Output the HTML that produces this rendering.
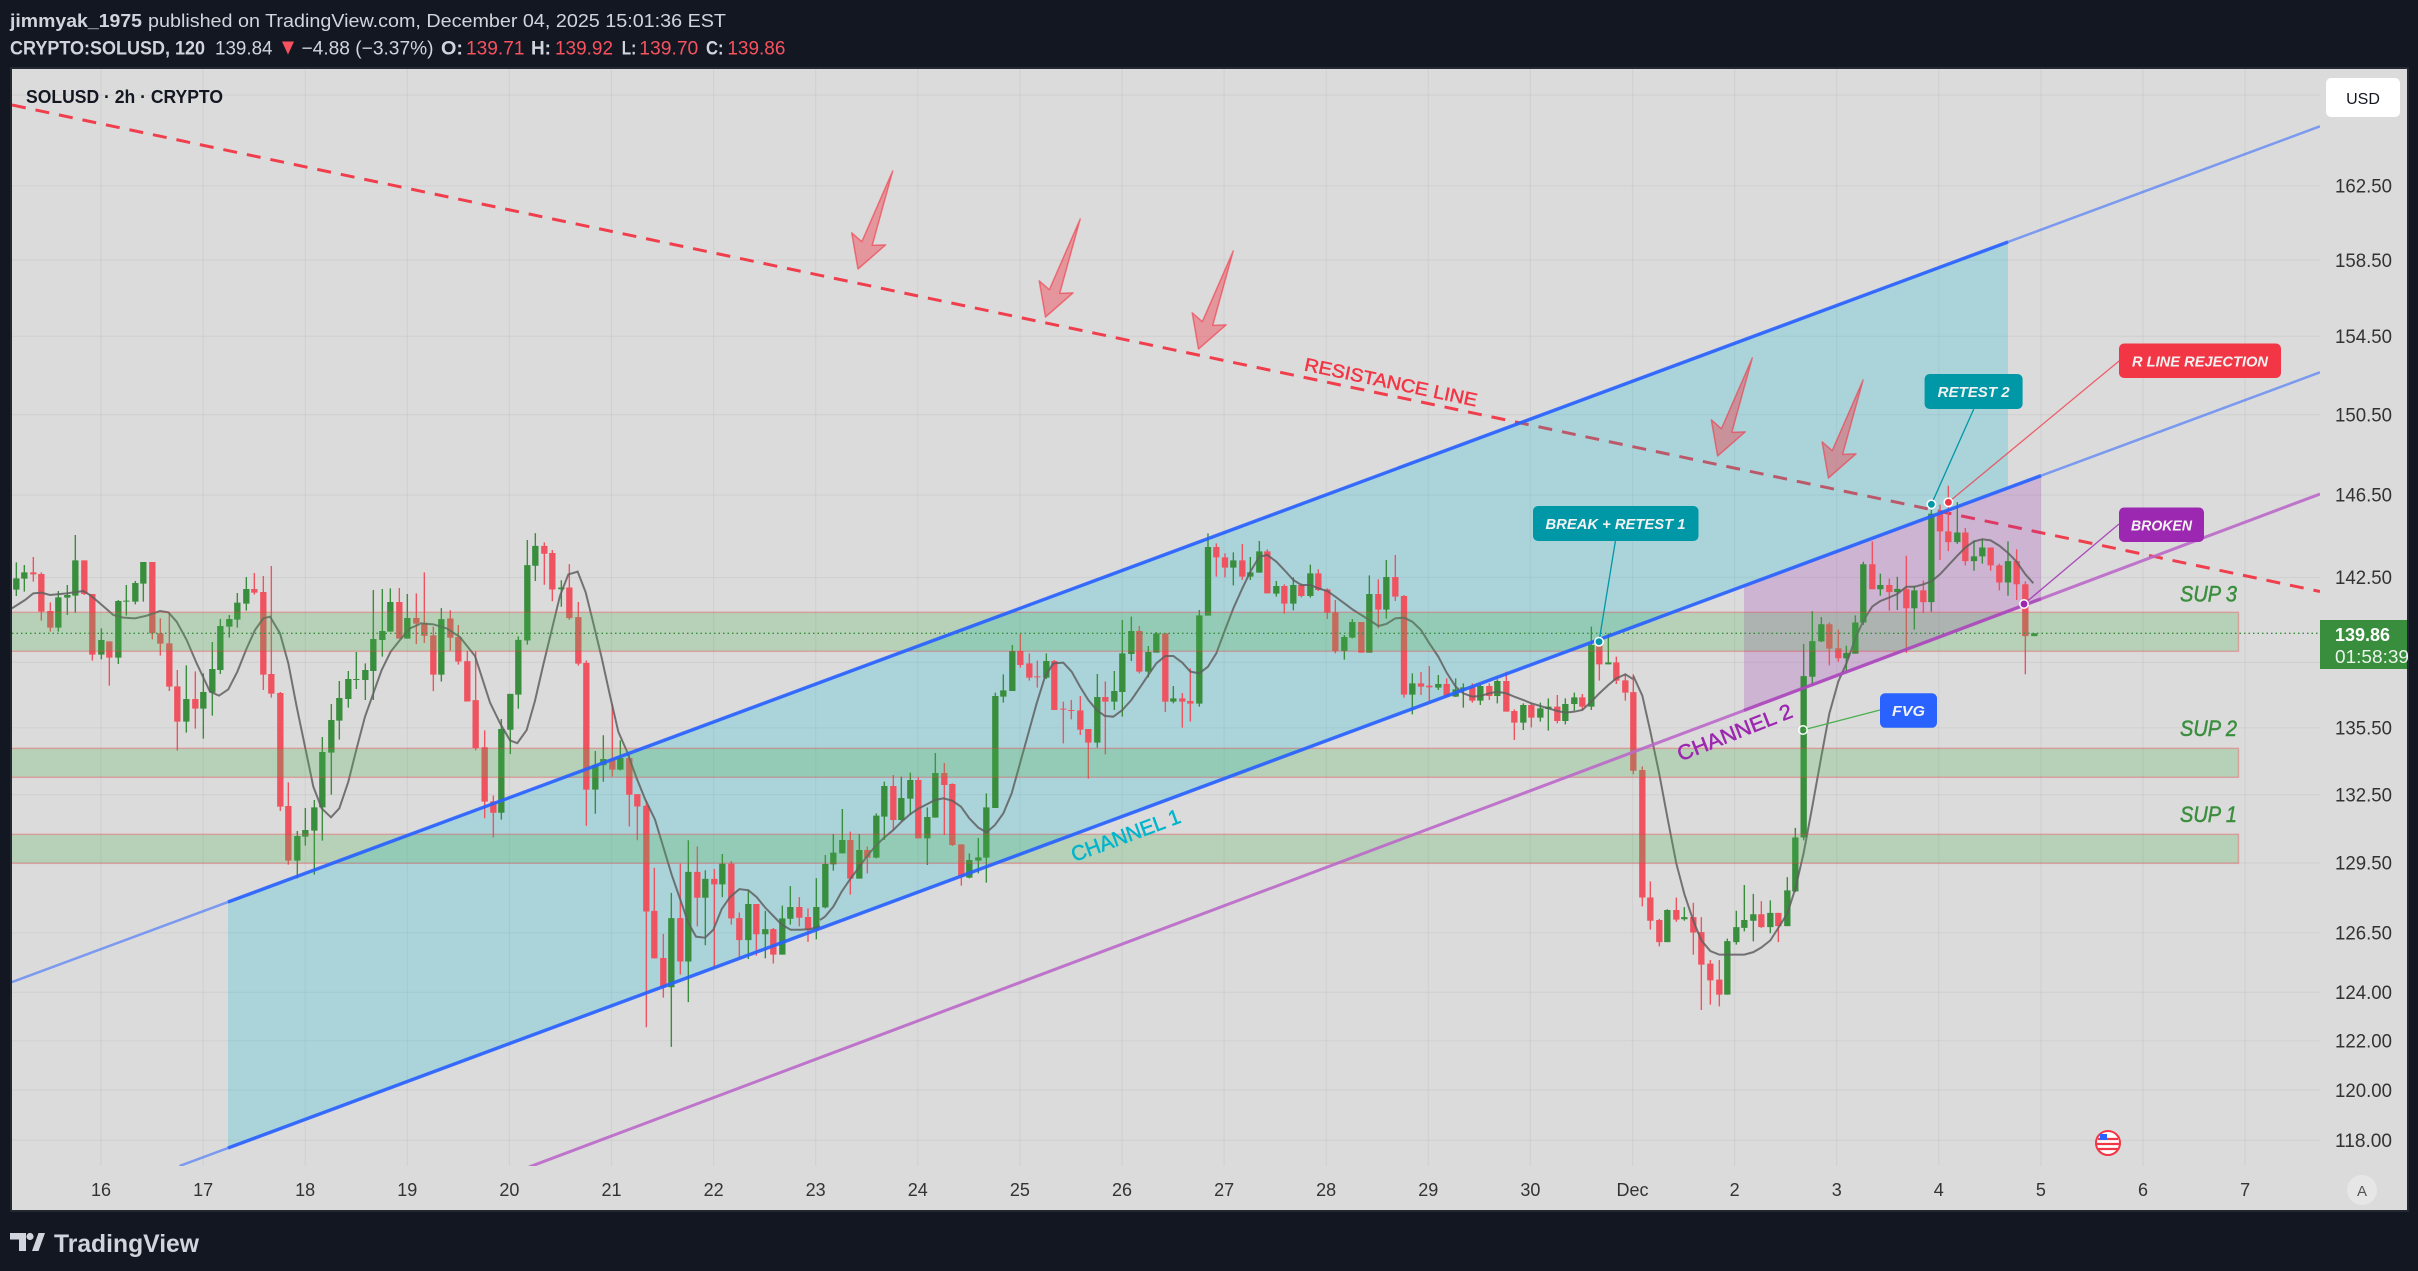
<!DOCTYPE html>
<html><head><meta charset="utf-8"><style>
html,body{margin:0;padding:0;background:#131722;}
svg{display:block;}
text{font-family:"Liberation Sans",sans-serif;}
</style></head><body>
<svg width="2418" height="1271" viewBox="0 0 2418 1271" xmlns="http://www.w3.org/2000/svg">
<defs>
<clipPath id="plot"><rect x="12" y="69" width="2308" height="1097"/></clipPath>
</defs>
<rect x="0" y="0" width="2418" height="1271" fill="#131722"/>
<!-- header -->
<text x="10" y="27" font-size="18" font-weight="bold" fill="#d1d4dc" textLength="132" lengthAdjust="spacingAndGlyphs">jimmyak_1975</text>
<text x="148" y="27" font-size="18" fill="#d1d4dc" textLength="578" lengthAdjust="spacingAndGlyphs">published on TradingView.com, December 04, 2025 15:01:36 EST</text>
<text x="10" y="54.5" font-size="19" font-weight="bold" fill="#d1d4dc" textLength="195" lengthAdjust="spacingAndGlyphs">CRYPTO:SOLUSD, 120</text>
<text x="215" y="54.5" font-size="19" fill="#d1d4dc" textLength="57.5" lengthAdjust="spacingAndGlyphs">139.84</text>
<polygon points="282,41.5 294,41.5 288,54.5" fill="#f7525f"/>
<text x="301.5" y="54.5" font-size="19" fill="#d1d4dc" textLength="132" lengthAdjust="spacingAndGlyphs">−4.88 (−3.37%)</text>
<text x="441" y="54.5" font-size="19" font-weight="bold" fill="#d1d4dc" textLength="22" lengthAdjust="spacingAndGlyphs">O:</text>
<text x="466" y="54.5" font-size="19" fill="#f7525f" textLength="58.5" lengthAdjust="spacingAndGlyphs">139.71</text>
<text x="531" y="54.5" font-size="19" font-weight="bold" fill="#d1d4dc" textLength="20" lengthAdjust="spacingAndGlyphs">H:</text>
<text x="555" y="54.5" font-size="19" fill="#f7525f" textLength="58" lengthAdjust="spacingAndGlyphs">139.92</text>
<text x="621.7" y="54.5" font-size="19" font-weight="bold" fill="#d1d4dc" textLength="14.5" lengthAdjust="spacingAndGlyphs">L:</text>
<text x="639.3" y="54.5" font-size="19" fill="#f7525f" textLength="59" lengthAdjust="spacingAndGlyphs">139.70</text>
<text x="706" y="54.5" font-size="19" font-weight="bold" fill="#d1d4dc" textLength="17.5" lengthAdjust="spacingAndGlyphs">C:</text>
<text x="727.4" y="54.5" font-size="19" fill="#f7525f" textLength="58" lengthAdjust="spacingAndGlyphs">139.86</text>

<!-- panel -->
<rect x="12" y="69" width="2395" height="1141" fill="#dbdbdb"/>
<rect x="11" y="68" width="2397" height="1143" fill="none" stroke="#2a2e39" stroke-width="1.5"/>

<g clip-path="url(#plot)">
<!-- gridlines -->
<g stroke="#000" stroke-opacity="0.045" stroke-width="1.2">
<path d="M12,95H2320M12,185.8H2320M12,260.1H2320M12,336.3H2320M12,414.6H2320M12,495H2320M12,577.5H2320M12,662.4H2320M12,727.8H2320M12,794.6H2320M12,862.9H2320M12,932.8H2320M12,992.3H2320M12,1040.8H2320M12,1090.1H2320M12,1140.3H2320"/>
<path d="M101,69V1166M203.1,69V1166M305.2,69V1166M407.3,69V1166M509.4,69V1166M611.5,69V1166M713.6,69V1166M815.7,69V1166M917.8,69V1166M1019.9,69V1166M1122,69V1166M1224.1,69V1166M1326.2,69V1166M1428.3,69V1166M1530.4,69V1166M1632.5,69V1166M1734.6,69V1166M1836.7,69V1166M1938.8,69V1166M2040.9,69V1166M2143,69V1166M2245.1,69V1166"/>
</g>

<!-- resistance line -->
<line x1="12" y1="105" x2="2320" y2="591.5" stroke="#f23645" stroke-width="3" stroke-dasharray="14 10" opacity="0.95"/>
<text transform="translate(1391,382) rotate(11.9)" text-anchor="middle" dominant-baseline="central" font-size="18.5" fill="#f23645" stroke="#f23645" stroke-width="0.5" textLength="176" lengthAdjust="spacingAndGlyphs">RESISTANCE LINE</text>

<!-- channel fills -->
<polygon points="228,902 2008,242 2008,488 228,1148" fill="rgba(0,188,212,0.22)"/>
<polygon points="1744,585.9 2041,475.7 2041,598.8 1744,710.4" fill="rgba(156,39,176,0.22)"/>

<!-- arrows -->
<g fill="rgba(242,54,69,0.42)" stroke="rgba(242,54,69,0.6)" stroke-width="1.5" stroke-linejoin="round">
<path transform="translate(858,269) rotate(19.5)" d="M0,0L18,-32L5.5,-27L0,-104L-5.5,-27L-18,-32Z"/>
<path transform="translate(1045.5,317) rotate(19.5)" d="M0,0L18,-32L5.5,-27L0,-104L-5.5,-27L-18,-32Z"/>
<path transform="translate(1198.5,349) rotate(19.5)" d="M0,0L18,-32L5.5,-27L0,-104L-5.5,-27L-18,-32Z"/>
<path transform="translate(1717.6,456) rotate(19.5)" d="M0,0L18,-32L5.5,-27L0,-104L-5.5,-27L-18,-32Z"/>
<path transform="translate(1828.4,478) rotate(19.5)" d="M0,0L18,-32L5.5,-27L0,-104L-5.5,-27L-18,-32Z"/>
</g>

<!-- candles -->
<g transform="translate(0,520) scale(0.333333)">
<path fill="#388e3c" d="M39.5,175h19v34h-19zM63.5,157h19v19h-19zM165.5,232h19v91h-19zM192.5,225h19v8h-19zM216.5,121h19v106h-19zM294.5,360h19v44h-19zM345.5,243h19v170h-19zM369.5,242h19v3h-19zM396.5,189h19v56h-19zM420.5,126h19v65h-19zM549.5,537h19v68h-19zM600.5,516h19v50h-19zM627.5,447h19v71h-19zM651.5,318h19v132h-19zM678.5,297h19v23h-19zM702.5,248h19v51h-19zM729.5,207h19v44h-19zM882.5,948h19v74h-19zM906.5,930h19v20h-19zM933.5,862h19v70h-19zM957.5,696h19v166h-19zM984.5,600h19v98h-19zM1008.5,534h19v68h-19zM1035.5,477h19v60h-19zM1059.5,477h19v3h-19zM1086.5,450h19v30h-19zM1110.5,357h19v96h-19zM1137.5,333h19v27h-19zM1161.5,246h19v89h-19zM1212.5,294h19v62h-19z"/>
<path stroke="#388e3c" stroke-width="1.4" vector-effect="non-scaling-stroke" fill="none" d="M49,127V228M73,135V215M175,213V335M202,195V285M226,45V278M304,325V418M355,240V432M379,195V287M406,183V253M430,126V245M559,436V638M610,460V656M637,366V587M661,297V462M688,285V353M712,219V323M739,171V272M892,933V1075M916,864V977M943,840V1064M967,651V962M994,552V824M1018,483V659M1045,453V563M1069,396V507M1096,430V540M1120,210V540M1147,207V410M1171,205V335M1222,222V356"/>
<path fill="#ef5360" d="M90.5,157h19v6h-19zM114.5,162h19v113h-19zM141.5,273h19v50h-19zM243.5,121h19v101h-19zM267.5,222h19v182h-19zM318.5,364h19v49h-19zM447.5,126h19v214h-19zM471.5,340h19v31h-19zM498.5,370h19v130h-19zM522.5,499h19v106h-19zM576.5,537h19v29h-19zM753.5,207h19v11h-19zM780.5,216h19v248h-19zM804.5,462h19v59h-19zM831.5,519h19v341h-19zM855.5,858h19v164h-19zM1188.5,246h19v110h-19zM1239.5,294h19v17h-19z"/>
<path stroke="#ef5360" stroke-width="1.4" vector-effect="non-scaling-stroke" fill="none" d="M100,111V185M124,157V302M151,247V335M253,121V225M277,222V422M328,364V497M457,126V358M481,295V407M508,279V513M532,450V692M586,454V626M763,159V224M790,168V510M814,138V533M841,516V873M865,787V1034M1198,204V356M1249,220V372"/>
<polyline fill="none" stroke="#5f5f5f" stroke-opacity="0.85" stroke-width="2" vector-effect="non-scaling-stroke" points="36,265 75,240 100,220 124,218 150,225 200,220 250,213 270,225 300,250 340,285 370,293 405,295 440,287 480,273 505,277 530,305 560,360 590,430 630,515 657,527 685,508 712,455 740,385 765,330 790,295 810,290 840,340 865,430 890,560 915,680 940,800 965,865 993,892 1018,865 1045,785 1070,685 1095,590 1120,520 1145,450 1172,395 1200,360 1230,325 1260,312"/>
</g>

<g transform="translate(400,520) scale(0.333333,0.34435)">
<path fill="#388e3c" d="M114.5,288h19v161h-19zM294.5,607h19v243h-19zM321.5,505h19v104h-19zM345.5,348h19v159h-19zM372.5,131h19v219h-19zM396.5,75h19v58h-19zM474.5,196h19v5h-19zM576.5,711h19v72h-19zM600.5,694h19v18h-19zM651.5,691h19v34h-19zM804.5,1156h19v201h-19zM855.5,1022h19v260h-19zM906.5,1042h19v55h-19zM957.5,998h19v60h-19zM1035.5,1115h19v105h-19zM1086.5,1188h19v15h-19zM1137.5,1157h19v105h-19zM1161.5,1124h19v34h-19zM1239.5,1124h19v66h-19z"/>
<path stroke="#388e3c" stroke-width="1.4" vector-effect="non-scaling-stroke" fill="none" d="M124,256V469M304,578V870M331,505V680M355,338V548M382,58V362M406,38V177M484,175V252M586,671V853M610,625V760M661,640V727M814,1083V1530M865,930V1400M916,1017V1235M967,970V1095M1045,1075V1275M1096,1135V1273M1147,1120V1262M1171,1063V1175M1249,1040V1218"/>
<path fill="#ef5360" d="M63.5,300h19v36h-19zM90.5,335h19v114h-19zM141.5,286h19v56h-19zM165.5,340h19v71h-19zM192.5,410h19v117h-19zM217.5,523h19v139h-19zM244.5,660h19v158h-19zM270.5,817h19v33h-19zM423.5,75h19v23h-19zM447.5,96h19v106h-19zM498.5,196h19v89h-19zM525.5,282h19v135h-19zM549.5,415h19v368h-19zM627.5,694h19v31h-19zM678.5,691h19v107h-19zM702.5,796h19v36h-19zM729.5,830h19v307h-19zM753.5,1135h19v138h-19zM780.5,1272h19v85h-19zM831.5,1156h19v126h-19zM882.5,1022h19v75h-19zM933.5,1042h19v16h-19zM984.5,998h19v159h-19zM1008.5,1156h19v64h-19zM1059.5,1115h19v88h-19zM1110.5,1188h19v74h-19zM1188.5,1124h19v31h-19zM1214.5,1153h19v37h-19z"/>
<path stroke="#ef5360" stroke-width="1.4" vector-effect="non-scaling-stroke" fill="none" d="M73,152V357M100,310V497M151,262V379M175,305V420M202,380V527M227,381V669M254,611V866M280,800V922M433,65V188M457,87V236M508,128V290M535,238V423M559,408V888M637,535V745M688,680V890M712,796V930M739,815V1473M763,1010V1273M790,1202V1387M841,998V1320M892,948V1180M943,1013V1300M994,990V1175M1018,1140V1272M1069,1115V1265M1120,1185V1288M1198,1095V1180M1224,1128V1225"/>
<polyline fill="none" stroke="#5f5f5f" stroke-opacity="0.85" stroke-width="2" vector-effect="non-scaling-stroke" points="60,300 100,303 140,315 180,340 225,395 270,530 300,590 330,640 352,648 380,610 405,525 430,420 455,320 480,220 505,158 533,150 557,210 580,300 605,400 630,510 655,615 680,670 710,750 735,810 765,870 790,950 815,1030 840,1100 865,1170 888,1210 915,1213 940,1190 965,1130 990,1095 1018,1072 1045,1075 1070,1095 1095,1125 1120,1150 1145,1175 1172,1190 1200,1190 1230,1188 1260,1180"/>
</g>

<g transform="translate(800,520) scale(0.333333)">
<path fill="#388e3c" d="M66.5,1032h19v130h-19zM90.5,998h19v35h-19zM117.5,960h19v40h-19zM168.5,990h19v86h-19zM219.5,887h19v126h-19zM243.5,798h19v92h-19zM294.5,834h19v66h-19zM321.5,780h19v56h-19zM372.5,891h19v64h-19zM396.5,759h19v134h-19zM498.5,1020h19v53h-19zM525.5,1012h19v10h-19zM549.5,862h19v151h-19zM576.5,528h19v336h-19zM600.5,511h19v19h-19zM627.5,393h19v120h-19zM729.5,423h19v50h-19zM882.5,531h19v137h-19zM933.5,513h19v32h-19zM957.5,400h19v116h-19zM984.5,333h19v69h-19zM1035.5,396h19v59h-19zM1059.5,340h19v58h-19zM1110.5,535h19v10h-19zM1188.5,286h19v265h-19zM1214.5,81h19v206h-19z"/>
<path stroke="#388e3c" stroke-width="1.4" vector-effect="non-scaling-stroke" fill="none" d="M76,1005V1165M100,942V1052M127,867V1000M178,942V1076M229,880V1015M253,785V960M304,770V903M331,758V885M382,862V1035M406,699V893M508,1000V1075M535,954V1060M559,820V1088M586,518V864M610,463V548M637,375V513M739,400V477M892,462V683M943,453V570M967,300V590M994,290V423M1045,378V472M1069,336V398M1120,498V550M1198,270V560M1224,40V287"/>
<path fill="#ef5360" d="M141.5,960h19v116h-19zM192.5,990h19v23h-19zM270.5,798h19v102h-19zM345.5,780h19v175h-19zM423.5,759h19v36h-19zM447.5,792h19v183h-19zM474.5,973h19v97h-19zM651.5,393h19v42h-19zM678.5,430h19v43h-19zM702.5,469h19v3h-19zM753.5,423h19v147h-19zM780.5,566h19v3h-19zM804.5,570h19v3h-19zM831.5,571h19v58h-19zM855.5,627h19v41h-19zM906.5,531h19v14h-19zM1008.5,333h19v122h-19zM1086.5,340h19v205h-19zM1137.5,535h19v10h-19zM1161.5,543h19v8h-19zM1239.5,81h19v31h-19z"/>
<path stroke="#ef5360" stroke-width="1.4" vector-effect="non-scaling-stroke" fill="none" d="M151,935V1124M202,980V1060M280,765V932M355,772V955M433,729V945M457,790V978M484,973V1097M661,342V443M688,400V482M712,422V503M763,420V570M790,545V670M814,540V598M841,528V645M865,627V776M916,484V703M1018,318V460M1096,340V576M1147,519V623M1171,445V605M1249,70V170"/>
<polyline fill="none" stroke="#5f5f5f" stroke-opacity="0.85" stroke-width="2" vector-effect="non-scaling-stroke" points="60,1200 75,1190 100,1160 125,1115 150,1078 175,1045 200,1010 225,980 250,955 280,930 305,905 330,883 355,866 380,853 405,840 430,835 457,842 483,860 508,895 535,923 560,937 585,915 610,880 635,820 660,730 685,640 710,550 735,470 760,430 790,428 815,455 840,500 865,540 890,570 915,588 940,590 967,570 994,540 1018,505 1045,465 1069,430 1096,408 1120,408 1147,428 1171,455 1198,460 1224,440 1249,400 1260,370"/>
</g>

<g transform="translate(1210,520) scale(0.333333)">
<path fill="#388e3c" d="M60.5,121h19v22h-19zM111.5,157h19v13h-19zM138.5,94h19v64h-19zM189.5,198h19v23h-19zM240.5,195h19v56h-19zM291.5,160h19v68h-19zM393.5,351h19v42h-19zM417.5,306h19v47h-19zM468.5,222h19v176h-19zM519.5,171h19v98h-19zM597.5,490h19v34h-19zM675.5,492h19v11h-19zM727.5,508h19v22h-19zM750.5,502h19v6h-19zM801.5,498h19v44h-19zM852.5,483h19v45h-19zM930.5,555h19v53h-19zM981.5,565h19v28h-19zM1005.5,560h19v7h-19zM1056.5,552h19v51h-19zM1083.5,532h19v20h-19zM1134.5,375h19v185h-19zM1185.5,427h19v6h-19z"/>
<path stroke="#388e3c" stroke-width="1.4" vector-effect="non-scaling-stroke" fill="none" d="M70,97V196M121,111V180M148,63V158M199,183V230M250,172V271M301,134V233M403,345V419M427,297V355M478,166V398M529,120V296M607,460V583M685,465V510M737,475V531M760,490V563M811,493V555M862,478V550M940,550V630M991,548V605M1015,535V632M1066,535V613M1093,518V572M1144,320V570M1195,340V433"/>
<path fill="#ef5360" d="M35.5,112h19v31h-19zM87.5,121h19v49h-19zM162.5,94h19v126h-19zM213.5,198h19v53h-19zM264.5,195h19v33h-19zM315.5,160h19v50h-19zM342.5,208h19v70h-19zM366.5,277h19v116h-19zM444.5,306h19v92h-19zM495.5,222h19v47h-19zM546.5,171h19v59h-19zM572.5,228h19v296h-19zM623.5,490h19v10h-19zM648.5,497h19v5h-19zM700.5,492h19v38h-19zM777.5,502h19v40h-19zM828.5,498h19v30h-19zM879.5,483h19v92h-19zM903.5,573h19v35h-19zM954.5,555h19v38h-19zM1032.5,560h19v43h-19zM1107.5,532h19v28h-19zM1158.5,375h19v58h-19zM1209.5,427h19v55h-19zM1236.5,481h19v37h-19z"/>
<path stroke="#ef5360" stroke-width="1.4" vector-effect="non-scaling-stroke" fill="none" d="M45,100V172M97,72V180M172,88V220M223,193V281M274,190V232M325,148V213M352,205V297M376,240V400M454,306V398M505,178V325M556,105V243M582,225V533M633,456V525M658,438V545M710,475V530M787,490V548M838,490V540M889,455V575M913,568V660M964,548V622M1042,525V610M1117,522V570M1168,358V482M1219,410V492M1246,460V542"/>
<polyline fill="none" stroke="#5f5f5f" stroke-opacity="0.85" stroke-width="2" vector-effect="non-scaling-stroke" points="30,370 45,330 70,265 97,205 121,155 148,110 172,105 199,125 223,150 250,180 274,195 301,195 325,205 352,213 376,230 403,250 427,268 454,285 478,300 505,318 529,312 556,295 582,293 607,305 633,330 658,370 685,410 710,458 737,500 760,520 787,530 811,528 838,520 862,515 889,520 913,530 940,540 964,550 991,558 1015,565 1042,573 1066,578 1093,575 1117,570 1144,545 1168,520 1195,495 1219,475 1246,463 1270,478"/>
</g>

<g transform="translate(1620,460) scale(0.333333,0.357143)">
<path fill="#388e3c" d="M132.5,1260h19v90h-19zM183.5,1280h19v6h-19zM312.5,1347h19v150h-19zM339.5,1308h19v42h-19zM363.5,1288h19v22h-19zM390.5,1272h19v18h-19zM441.5,1268h19v40h-19zM492.5,1205h19v100h-19zM516.5,1057h19v151h-19zM541.5,605h19v452h-19zM567.5,507h19v100h-19zM594.5,460h19v48h-19zM669.5,540h19v15h-19zM696.5,455h19v87h-19zM720.5,292h19v163h-19zM771.5,350h19v12h-19zM822.5,361h19v9h-19zM873.5,365h19v50h-19zM924.5,150h19v248h-19zM1002.5,203h19v27h-19zM1052.5,270h19v13h-19zM1077.5,245h19v25h-19zM1154.5,283h19v60h-19zM1233.5,485h19v8h-19z"/>
<path stroke="#388e3c" stroke-width="1.4" vector-effect="non-scaling-stroke" fill="none" d="M142,1258V1350M193,1252V1290M322,1340V1497M349,1262V1357M373,1190V1320M400,1215V1348M451,1233V1325M502,1168V1305M526,1030V1210M551,515V1065M577,423V630M604,440V510M679,520V590M706,435V542M730,285V462M781,318V380M832,327V420M883,352V475M934,140V425M1012,118V235M1062,225V310M1087,222V290M1164,228V380"/>
<path fill="#ef5360" d="M30.5,650h19v220h-19zM57.5,868h19v357h-19zM81.5,1225h19v65h-19zM108.5,1288h19v62h-19zM159.5,1260h19v27h-19zM210.5,1280h19v43h-19zM234.5,1322h19v91h-19zM261.5,1410h19v47h-19zM288.5,1455h19v42h-19zM414.5,1272h19v36h-19zM465.5,1268h19v37h-19zM618.5,460h19v68h-19zM645.5,527h19v28h-19zM747.5,292h19v70h-19zM798.5,350h19v20h-19zM849.5,362h19v53h-19zM900.5,365h19v33h-19zM950.5,150h19v50h-19zM975.5,200h19v30h-19zM1026.5,203h19v80h-19zM1102.5,245h19v50h-19zM1128.5,295h19v48h-19zM1180.5,283h19v65h-19zM1206.5,348h19v145h-19z"/>
<path stroke="#ef5360" stroke-width="1.4" vector-effect="non-scaling-stroke" fill="none" d="M40,600V880M67,858V1250M91,1180V1315M118,1285V1362M169,1225V1293M220,1240V1385M244,1280V1540M271,1400V1525M298,1400V1530M424,1235V1310M475,1268V1350M628,455V575M655,475V565M757,228V362M808,332V422M859,268V540M910,337V428M960,125V280M985,72V255M1036,190V295M1112,245V310M1138,290V365M1190,250V392M1216,340V600"/>
<polyline fill="none" stroke="#5f5f5f" stroke-opacity="0.85" stroke-width="2" vector-effect="non-scaling-stroke" points="40,605 67,660 91,760 118,880 142,1000 169,1130 193,1215 220,1290 244,1345 271,1375 298,1385 322,1385 349,1385 373,1385 400,1378 424,1365 451,1345 475,1310 502,1270 526,1200 551,1100 577,970 604,830 628,710 655,620 679,570 706,500 730,450 757,410 781,395 808,385 832,375 859,355 883,355 910,348 934,340 960,320 985,295 1012,268 1036,245 1062,228 1087,222 1112,225 1138,240 1164,260 1190,285 1216,320 1240,345"/>
</g>

<!-- support zones -->
<g fill="rgba(76,175,80,0.25)" stroke="rgba(242,54,69,0.32)" stroke-width="1.5">
<rect x="10" y="612.3" width="2228.5" height="39"/>
<rect x="10" y="748.3" width="2228.5" height="29"/>
<rect x="10" y="834.3" width="2228.5" height="29"/>
</g>
<!-- current price dotted line -->
<line x1="12" y1="633.3" x2="2320" y2="633.3" stroke="#388e3c" stroke-width="1.3" stroke-dasharray="1.5 3"/>

<!-- channel lines -->
<line x1="12" y1="982.1" x2="2320" y2="126.3" stroke="#2962ff" stroke-opacity="0.55" stroke-width="2.5"/>
<line x1="179.5" y1="1166" x2="2320" y2="372.3" stroke="#2962ff" stroke-opacity="0.55" stroke-width="2.5"/>
<line x1="228" y1="902" x2="2008" y2="242" stroke="#2962ff" stroke-opacity="0.85" stroke-width="3.5"/>
<line x1="228" y1="1148" x2="2041" y2="475.7" stroke="#2962ff" stroke-opacity="0.85" stroke-width="3.5"/>
<line x1="529" y1="1167" x2="2320" y2="494" stroke="#ba68c8" stroke-opacity="0.9" stroke-width="3"/>
<line x1="1744" y1="710.4" x2="2041" y2="598.8" stroke="#9c27b0" stroke-opacity="0.45" stroke-width="3.5"/>

<!-- channel texts -->
<text transform="translate(1126,836) rotate(-20.3)" text-anchor="middle" dominant-baseline="central" font-size="21" fill="#00b5cc" stroke="#00b5cc" stroke-width="0.5" textLength="115" lengthAdjust="spacingAndGlyphs">CHANNEL 1</text>
<text transform="translate(1735,733) rotate(-21.5)" text-anchor="middle" dominant-baseline="central" font-size="21" fill="#9c27b0" stroke="#9c27b0" stroke-width="0.5" textLength="122" lengthAdjust="spacingAndGlyphs">CHANNEL 2</text>

<!-- SUP labels -->
<g font-size="22" font-style="italic" fill="#3a8e3e" stroke="#3a8e3e" stroke-width="0.5" text-anchor="end">
<text x="2237" y="601.5" textLength="57" lengthAdjust="spacingAndGlyphs">SUP 3</text>
<text x="2237" y="736" textLength="57" lengthAdjust="spacingAndGlyphs">SUP 2</text>
<text x="2237" y="822" textLength="57" lengthAdjust="spacingAndGlyphs">SUP 1</text>
</g>

<!-- connectors -->
<line x1="1615.4" y1="541" x2="1599" y2="641.7" stroke="#0097a7" stroke-width="1.3"/>
<line x1="1973.8" y1="409" x2="1931.4" y2="504.3" stroke="#0097a7" stroke-width="1.3"/>
<line x1="2119.4" y1="360.7" x2="1948.4" y2="502.3" stroke="#f23645" stroke-opacity="0.75" stroke-width="1.3"/>
<line x1="2119" y1="524" x2="2024" y2="604" stroke="#9c27b0" stroke-opacity="0.8" stroke-width="1.3"/>
<line x1="1880" y1="710" x2="1803" y2="730" stroke="#4caf50" stroke-width="1.3"/>
<g stroke="#ffffff" stroke-width="1.5">
<circle cx="1599" cy="641.7" r="4.2" fill="#0097a7"/>
<circle cx="1931.4" cy="504.3" r="4.2" fill="#0097a7"/>
<circle cx="1948.4" cy="502.3" r="4.2" fill="#f23645"/>
<circle cx="2024" cy="604" r="4.2" fill="#9c27b0"/>
<circle cx="1803" cy="730" r="4.2" fill="#388e3c" fill-opacity="0.3"/>
</g>

<!-- label boxes -->
<g font-size="15" font-weight="bold" font-style="italic" fill="#f2f2f2" text-anchor="middle">
<rect x="1533" y="506" width="165.5" height="35" rx="5" fill="#0097a7"/>
<text x="1615.5" y="529" textLength="140" lengthAdjust="spacingAndGlyphs">BREAK + RETEST 1</text>
<rect x="1924.6" y="374" width="98" height="35" rx="5" fill="#0097a7"/>
<text x="1973.6" y="397" textLength="72" lengthAdjust="spacingAndGlyphs">RETEST 2</text>
<rect x="2119" y="343.5" width="162" height="34.5" rx="5" fill="#f23645"/>
<text x="2200" y="366.3" textLength="136" lengthAdjust="spacingAndGlyphs">R LINE REJECTION</text>
<rect x="2119" y="507.5" width="85" height="34.5" rx="5" fill="#9c27b0"/>
<text x="2161.5" y="530.3" textLength="61" lengthAdjust="spacingAndGlyphs">BROKEN</text>
<rect x="1880" y="693.3" width="57" height="34.5" rx="5" fill="#2962ff"/>
<text x="1908.5" y="716.2" textLength="33" lengthAdjust="spacingAndGlyphs">FVG</text>
</g>

<!-- flag icon -->
<circle cx="2108" cy="1143" r="12" fill="#ffffff" stroke="#f23645" stroke-width="2"/>
<path d="M2098,1139H2118M2097,1144H2119M2098,1149H2118" stroke="#f23645" stroke-width="2.2"/>
<rect x="2100" y="1134" width="7" height="6" fill="#2962ff"/>
</g>

<!-- chart title -->
<text x="26" y="103" font-size="18" font-weight="bold" fill="#131722" textLength="197" lengthAdjust="spacingAndGlyphs">SOLUSD · 2h · CRYPTO</text>

<!-- price axis -->
<rect x="2326" y="78" width="74" height="39" rx="5" fill="#ffffff"/>
<text x="2363" y="104" font-size="16" fill="#131722" text-anchor="middle">USD</text>
<g font-size="19" fill="#333333">
<text x="2335" y="192.5" textLength="57" lengthAdjust="spacingAndGlyphs">162.50</text>
<text x="2335" y="266.8" textLength="57" lengthAdjust="spacingAndGlyphs">158.50</text>
<text x="2335" y="343" textLength="57" lengthAdjust="spacingAndGlyphs">154.50</text>
<text x="2335" y="421.3" textLength="57" lengthAdjust="spacingAndGlyphs">150.50</text>
<text x="2335" y="501.7" textLength="57" lengthAdjust="spacingAndGlyphs">146.50</text>
<text x="2335" y="584.2" textLength="57" lengthAdjust="spacingAndGlyphs">142.50</text>
<text x="2335" y="734.5" textLength="57" lengthAdjust="spacingAndGlyphs">135.50</text>
<text x="2335" y="801.3" textLength="57" lengthAdjust="spacingAndGlyphs">132.50</text>
<text x="2335" y="869.6" textLength="57" lengthAdjust="spacingAndGlyphs">129.50</text>
<text x="2335" y="939.5" textLength="57" lengthAdjust="spacingAndGlyphs">126.50</text>
<text x="2335" y="999" textLength="57" lengthAdjust="spacingAndGlyphs">124.00</text>
<text x="2335" y="1047.5" textLength="57" lengthAdjust="spacingAndGlyphs">122.00</text>
<text x="2335" y="1096.8" textLength="57" lengthAdjust="spacingAndGlyphs">120.00</text>
<text x="2335" y="1147" textLength="57" lengthAdjust="spacingAndGlyphs">118.00</text>
</g>
<rect x="2320" y="620" width="87" height="49" fill="#388e3c"/>
<text x="2335" y="641" font-size="18" font-weight="bold" fill="#ffffff" textLength="55" lengthAdjust="spacingAndGlyphs">139.86</text>
<text x="2335" y="663" font-size="18" fill="#ffffff" fill-opacity="0.9" textLength="74" lengthAdjust="spacingAndGlyphs">01:58:39</text>

<!-- time axis -->
<g font-size="18" fill="#333333" text-anchor="middle">
<text x="101" y="1196">16</text>
<text x="203.1" y="1196">17</text>
<text x="305.2" y="1196">18</text>
<text x="407.3" y="1196">19</text>
<text x="509.4" y="1196">20</text>
<text x="611.5" y="1196">21</text>
<text x="713.6" y="1196">22</text>
<text x="815.7" y="1196">23</text>
<text x="917.8" y="1196">24</text>
<text x="1019.9" y="1196">25</text>
<text x="1122" y="1196">26</text>
<text x="1224.1" y="1196">27</text>
<text x="1326.2" y="1196">28</text>
<text x="1428.3" y="1196">29</text>
<text x="1530.4" y="1196">30</text>
<text x="1632.5" y="1196">Dec</text>
<text x="1734.6" y="1196">2</text>
<text x="1836.7" y="1196">3</text>
<text x="1938.8" y="1196">4</text>
<text x="2040.9" y="1196">5</text>
<text x="2143" y="1196">6</text>
<text x="2245.1" y="1196">7</text>
</g>
<circle cx="2362" cy="1190" r="15" fill="#e6e6e6"/>
<text x="2362" y="1196" font-size="15" fill="#555555" text-anchor="middle">A</text>

<!-- footer logo -->
<g fill="#d1d4dc">
<path d="M10,1233H26V1251H19V1239.5H10Z"/>
<circle cx="30" cy="1236.5" r="3.6"/>
<path d="M38.5,1233H45L38.5,1251H32Z"/>
</g>
<text x="54" y="1252" font-size="25" font-weight="bold" fill="#d1d4dc" textLength="145" lengthAdjust="spacingAndGlyphs">TradingView</text>
</svg>
</body></html>
